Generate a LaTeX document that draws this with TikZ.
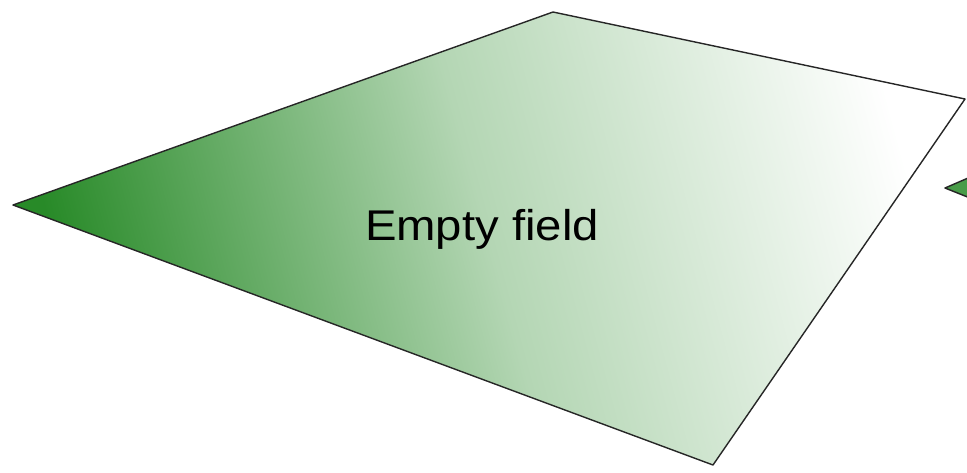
\documentclass[tikz,border=0pt]{standalone}
\usepackage{fontspec}
\setmainfont{Liberation Sans}
\usepackage{xcolor}
\usepackage{tikz}
\definecolor{fieldgreen}{RGB}{40,138,40}

\begin{document}
\begin{tikzpicture}[x=1pt, y=-1pt,
  field/.style={draw=black!85, line width=1.4pt, line join=round},
  lab/.style={font=\fontsize{43}{50}\selectfont, text=black, xscale=1.1, inner sep=0pt}]
  \useasboundingbox (0,0) rectangle (967,472);
  % corner points of the field
  \coordinate (top) at (553,12);
  \coordinate (rgt) at (965,99);
  \coordinate (bot) at (713,465);
  \coordinate (lft) at (13,205);
  % the field
  \path[field, left color=fieldgreen, right color=white, middle color=fieldgreen!35, shading angle=105]
    (top) -- (rgt) -- (bot) -- (lft) -- cycle;
  % next field, cut off at the edge
  \path[field, fill=fieldgreen!85] (945,188) -- (975,175) -- (975,200) -- cycle;
  % label
  \node[lab, anchor=base] (name) at (482,240) {Empty field};
\end{tikzpicture}
\end{document}
